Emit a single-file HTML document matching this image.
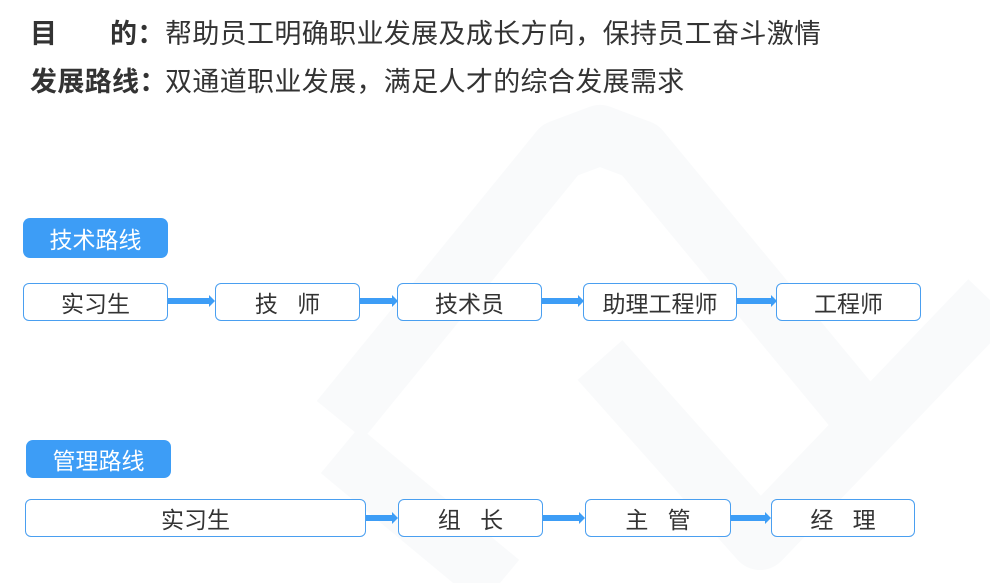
<!DOCTYPE html>
<html><head><meta charset="utf-8"><style>
html,body{margin:0;width:990px;height:583px;overflow:hidden}
body{background:#fff;position:relative;font-family:"Liberation Sans","Noto Sans CJK SC",sans-serif;color:#333}
.t{position:absolute;font-size:27px;line-height:30px;white-space:nowrap;letter-spacing:0.35px}
.b{font-weight:bold}
.box{position:absolute;border:1.5px solid #4a9ff0;border-radius:6px;background:#fff;box-sizing:border-box;display:flex;align-items:center;justify-content:center;font-size:23px;color:#333;white-space:pre}
.lab{position:absolute;background:#3d9df6;border-radius:7px;color:#fff;font-size:23px;display:flex;align-items:center;justify-content:center}
.ar{position:absolute;height:6px;background:#3d9df6}
.ar:after{content:"";position:absolute;right:-5px;top:-3px;border-left:6px solid #3d9df6;border-top:6px solid transparent;border-bottom:6px solid transparent}
</style></head><body>
<svg style="position:absolute;left:0;top:0" width="990" height="583" viewBox="0 0 990 583">
<g fill="none" stroke="#f9fafb" stroke-width="60" stroke-linejoin="round">
<path d="M340 420 L560 150 L600 135 L640 150 L880 440"/>
<path d="M340 450 L500 583"/>
<path d="M600 360 L760 540 L990 300"/>
</g></svg>
<div class="t b" style="left:30px;top:19px">目</div>
<div class="t b" style="left:110px;top:19px">的：</div>
<div class="t" style="left:165px;top:19px">帮助员工明确职业发展及成长方向，保持员工奋斗激情</div>
<div class="t b" style="left:30px;top:67px">发展路线：</div>
<div class="t" style="left:165px;top:67px">双通道职业发展，满足人才的综合发展需求</div>

<div class="lab" style="left:23px;top:218px;width:145px;height:40px">技术路线</div>
<div class="box" style="left:23px;top:283px;width:145px;height:38px">实习生</div>
<div class="ar" style="left:168px;top:298px;width:42px"></div>
<div class="box" style="left:215px;top:283px;width:145px;height:38px">技   师</div>
<div class="ar" style="left:360px;top:298px;width:33px"></div>
<div class="box" style="left:397px;top:283px;width:145px;height:38px">技术员</div>
<div class="ar" style="left:542px;top:298px;width:37px"></div>
<div class="box" style="left:583px;top:283px;width:154px;height:38px">助理工程师</div>
<div class="ar" style="left:737px;top:298px;width:35px"></div>
<div class="box" style="left:776px;top:283px;width:145px;height:38px">工程师</div>

<div class="lab" style="left:26px;top:440px;width:145px;height:38px">管理路线</div>
<div class="box" style="left:25px;top:499px;width:341px;height:38px">实习生</div>
<div class="ar" style="left:366px;top:515px;width:27px"></div>
<div class="box" style="left:398px;top:499px;width:145px;height:38px">组   长</div>
<div class="ar" style="left:543px;top:515px;width:37px"></div>
<div class="box" style="left:585px;top:499px;width:146px;height:38px">主   管</div>
<div class="ar" style="left:731px;top:515px;width:35px"></div>
<div class="box" style="left:771px;top:499px;width:144px;height:38px">经   理</div>
</body></html>
